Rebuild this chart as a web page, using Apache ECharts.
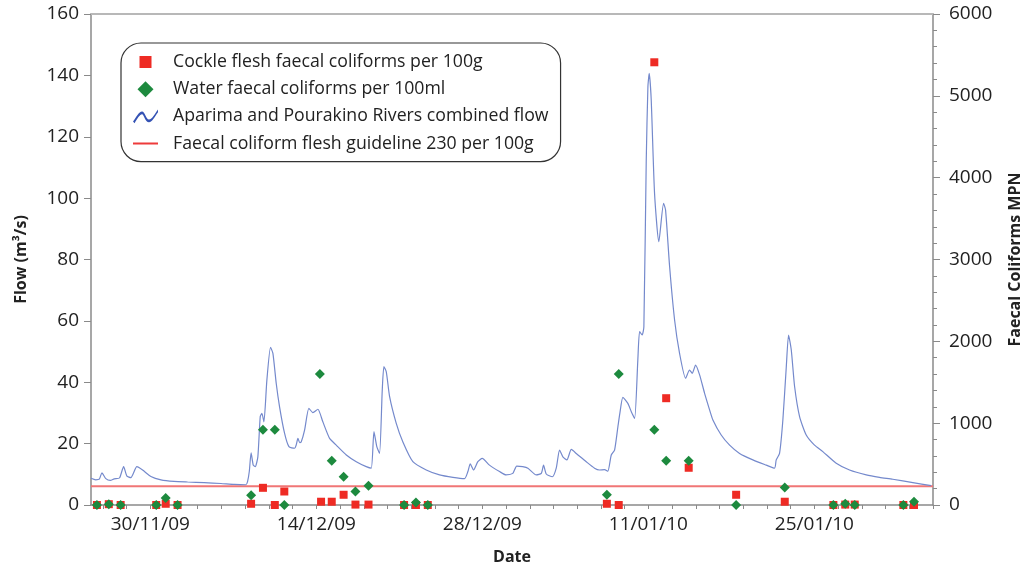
<!DOCTYPE html>
<html>
<head>
<meta charset="utf-8">
<script src="https://cdn.jsdelivr.net/npm/echarts@6/dist/echarts.min.js"></script>
<style>
html,body{margin:0;padding:0;background:#fff;}
#chart{width:1025px;height:568px;}
</style>
</head>
<body>
<div id="chart"></div>
<script>
// x values are days relative to 30/11/09
const baseDate = [2009, 10, 30];
const xMin = -5, xMax = 66;
const dateLabelDays = [0, 14, 28, 42, 56];
const flowTicks = [0, 20, 40, 60, 80, 100, 120, 140, 160];
const mpnTicks = [0, 1000, 2000, 3000, 4000, 5000, 6000];
const guidelineValue = 230;

const flowDays = [-5.0,-4.6,-4.3,-4.08,-3.75,-3.37,-3.04,-2.6,-2.25,-1.97,-1.64,-1.13,-0.65,0.05,0.9,2.0,3.15,4.55,5.96,7.08,8.06,8.2,8.35,8.5,8.68,8.85,9.07,9.27,9.41,9.58,9.83,10.14,10.34,10.62,10.9,11.32,11.69,12.17,12.3,12.45,12.6,12.73,13.01,13.37,13.71,14.13,14.55,15.12,15.68,16.53,17.37,18.21,18.63,18.86,19.1,19.33,19.56,19.7,19.9,20.18,20.74,21.3,22.14,23.27,24.39,25.52,26.5,26.78,26.98,27.26,27.62,27.99,28.6,29.45,30.0,30.57,30.9,31.4,31.84,32.55,32.97,33.16,33.39,33.9,34.23,34.51,34.79,35.13,35.5,35.92,36.76,37.46,37.88,38.3,38.58,38.87,39.15,39.43,39.6,39.85,40.27,40.56,40.84,41.11,41.26,41.48,41.62,41.82,41.96,42.07,42.24,42.52,42.88,43.28,43.45,43.79,44.21,44.63,45.14,45.47,45.7,45.98,46.32,46.74,47.16,47.44,48.14,48.85,49.69,50.81,51.94,52.64,52.78,53.06,53.34,53.63,53.82,54.05,54.33,54.75,55.31,56.01,56.71,57.84,58.96,60.37,61.49,62.61,64.3,65.85];
const flowValues = [8.7,8.2,8.4,10.5,8.6,8.0,8.5,8.8,12.5,9.4,8.9,12.5,11.4,9.3,8.2,7.7,7.5,7.3,7.0,6.7,6.6,7.6,11,17.0,13.0,12.5,15.7,28.8,29.9,27.1,40.7,51.4,49.4,39.6,32.0,23.4,19.0,18.5,19.5,21.7,20.3,20.6,24.4,31.5,30.1,31.2,27.1,21.7,19.5,16.3,14.1,12.5,12.0,23.9,19.0,16.8,37.5,45.1,43.4,35.3,26.6,20.5,14.1,11.4,9.8,9.0,8.6,10.9,13.4,11.4,14.1,15.2,13.0,10.9,9.8,10.3,12.7,12.5,12.0,9.8,10.3,13.0,10.1,9.2,12.0,17.9,15.7,14.7,18.1,16.8,14.1,12.0,11.4,11.5,11.0,16.3,17.9,25.5,30,35.1,33.1,30.4,28.2,47.2,56.5,55.4,58.1,112.4,136.3,140.7,132,101.6,85.8,98.3,96.1,77.7,60.3,49.4,41.3,44.0,42.9,45.6,42.4,36.4,31.0,27.7,22.8,19.5,16.8,14.7,13.0,12.0,14.7,16.8,27.7,45.1,55.4,50.5,38.6,28.8,22.8,19.5,17.4,13.6,11.4,9.8,9.0,8.4,7.3,6.3];

const cockleDays = [-4.5,-3.5,-2.5,0.5,1.3,2.3,8.5,9.5,10.5,11.3,14.4,15.3,16.3,17.3,18.4,21.4,22.4,23.4,38.5,39.5,42.5,43.5,45.4,49.4,53.5,57.6,58.6,59.4,63.5,64.4];
const cockleValues = [0,10,0,0,15,0,15,210,0,165,40,40,125,5,5,0,0,0,15,0,5410,1305,455,125,40,0,5,5,0,0];

const waterDays = [-4.5,-3.5,-2.5,0.5,1.3,2.3,8.5,9.5,10.5,11.3,14.3,15.3,16.3,17.3,18.4,21.4,22.4,23.4,38.5,39.5,42.5,43.5,45.4,49.4,53.5,57.6,58.6,59.4,63.5,64.4];
const waterValues = [0,10,0,0,85,0,120,920,920,0,1600,540,345,165,235,0,30,0,125,1600,920,540,540,0,215,0,15,0,0,40];

const zip = (a, b) => a.map((v, i) => [v, b[i]]);
const evenTicks = [];
for (let d = -4; d <= 66; d += 2) evenTicks.push(d);

function fmtDate(d) {
  const dt = new Date(baseDate[0], baseDate[1], baseDate[2] + Math.round(d));
  const p = n => (n < 10 ? '0' : '') + n;
  return p(dt.getDate()) + '/' + p(dt.getMonth() + 1) + '/' + p(dt.getFullYear() % 100);
}

const FONT = 'Open Sans';
const axisGray = '#8a8a8a';
const TICKFS = 19;

const chart = echarts.init(document.getElementById('chart'), null, {renderer: 'canvas'});
chart.setOption({
  animation: false,
  backgroundColor: '#fff',
  textStyle: {fontFamily: FONT},
  grid: {left: 91, right: 92, top: 14, bottom: 63, containLabel: false, outerBoundsMode: 'none'},
  legend: {
    orient: 'vertical',
    left: 121, top: 43,
    padding: [10, 12, 9, 12],
    itemGap: 9.2,
    itemWidth: 25, itemHeight: 16,
    backgroundColor: '#fff',
    borderColor: '#333', borderWidth: 1.2, borderRadius: 20,
    selectedMode: false,
    textStyle: {fontFamily: FONT, fontSize: 17.7, color: '#222', padding: [0, 0, 0, 10]},
    data: [
      {name: 'Cockle flesh faecal coliforms per 100g', icon: 'path://M0,0L0.01,0Z M16,16L15.99,16Z M2,2H14V14H2Z', itemStyle: {color: '#ee2b24', borderWidth: 0, opacity: 1}},
      {name: 'Water faecal coliforms per 100ml', icon: 'path://M8,0L16,8L8,16L0,8Z', itemStyle: {color: '#1d8a3e', borderWidth: 0, opacity: 1}},
      {name: 'Aparima and Pourakino Rivers combined flow', icon: 'path://M0,13 C3,9 6,3 9,3 C12,3 13,11 16,11 C19,11 22,5 25,1 L25,3.6 C22,7.6 19,13.6 16,13.6 C12,13.6 11,5.6 9,5.6 C7,5.6 4,10 1.6,14.6 Z', itemStyle: {color: '#3452b4', borderWidth: 0, opacity: 1}},
      {name: 'Faecal coliform flesh guideline 230 per 100g', icon: 'path://M0,0L0.01,0Z M0,16L0.01,16Z M0,7H25V9H0Z', itemStyle: {color: '#ee3b3b', borderWidth: 0, opacity: 1}}
    ]
  },
  xAxis: [{
    type: 'value', min: xMin, max: xMax,
    name: 'Date', nameLocation: 'middle', nameGap: 44,
    nameTextStyle: {fontFamily: FONT, fontSize: 16, fontWeight: 'bold', color: '#222'},
    axisLine: {show: true, onZero: false, lineStyle: {color: axisGray, width: 1.5}},
    axisTick: {show: true, length: 4, customValues: evenTicks, lineStyle: {color: axisGray, width: 1}},
    axisLabel: {customValues: dateLabelDays, formatter: fmtDate, margin: 10, fontFamily: FONT, fontSize: TICKFS, color: '#222'},
    splitLine: {show: false}
  }, {
    type: 'value', min: xMin, max: xMax, position: 'top',
    axisLine: {show: true, onZero: false, lineStyle: {color: '#b8b8b8', width: 2}},
    axisTick: {show: false}, axisLabel: {show: false}, splitLine: {show: false}
  }],
  yAxis: [{
    type: 'value', min: 0, max: 160, interval: 20, position: 'left',
    name: 'Flow (m³/s)', nameLocation: 'middle', nameGap: 62, nameRotate: 90,
    nameTextStyle: {fontFamily: FONT, fontSize: 16, fontWeight: 'bold', color: '#222'},
    axisLine: {show: true, onZero: false, lineStyle: {color: axisGray, width: 1.5}},
    axisTick: {show: true, length: 7, lineStyle: {color: axisGray}},
    axisLabel: {customValues: flowTicks, formatter: v => String(v), margin: 12, fontFamily: FONT, fontSize: TICKFS, color: '#222'},
    splitLine: {show: false}
  }, {
    type: 'value', min: 0, max: 6000, interval: 1000, position: 'right',
    name: 'Faecal Coliforms MPN', nameLocation: 'middle', nameGap: 74, nameRotate: 90,
    nameTextStyle: {fontFamily: FONT, fontSize: 16, fontWeight: 'bold', color: '#222'},
    axisLine: {show: true, onZero: false, lineStyle: {color: axisGray, width: 1.5}},
    axisTick: {show: true, length: 7, lineStyle: {color: axisGray}},
    minorTick: {show: true, splitNumber: 5, length: 4, lineStyle: {color: axisGray}},
    axisLabel: {customValues: mpnTicks, formatter: v => String(v), margin: 16, fontFamily: FONT, fontSize: TICKFS, color: '#222'},
    splitLine: {show: false}
  }],
  series: [
    {
      name: 'Faecal coliform flesh guideline 230 per 100g', type: 'line', yAxisIndex: 1,
      data: [[xMin, guidelineValue], [xMax, guidelineValue]],
      symbol: 'none', lineStyle: {color: '#f07676', width: 2}, itemStyle: {color: '#ee3b3b'}, z: 2
    },
    {
      name: 'Aparima and Pourakino Rivers combined flow', type: 'line', yAxisIndex: 0,
      data: zip(flowDays, flowValues), symbol: 'none', smooth: 0.2,
      lineStyle: {color: '#7489cc', width: 1.2}, itemStyle: {color: '#3452b4'}, z: 3
    },
    {
      name: 'Cockle flesh faecal coliforms per 100g', type: 'scatter', yAxisIndex: 1,
      data: zip(cockleDays, cockleValues), symbol: 'rect', symbolSize: 8,
      itemStyle: {color: '#ee2b24', opacity: 1}, z: 4
    },
    {
      name: 'Water faecal coliforms per 100ml', type: 'scatter', yAxisIndex: 1,
      data: zip(waterDays, waterValues), symbol: 'diamond', symbolSize: 10,
      itemStyle: {color: '#1d8a3e', opacity: 1}, z: 5
    }
  ]
});
</script>
</body>
</html>
